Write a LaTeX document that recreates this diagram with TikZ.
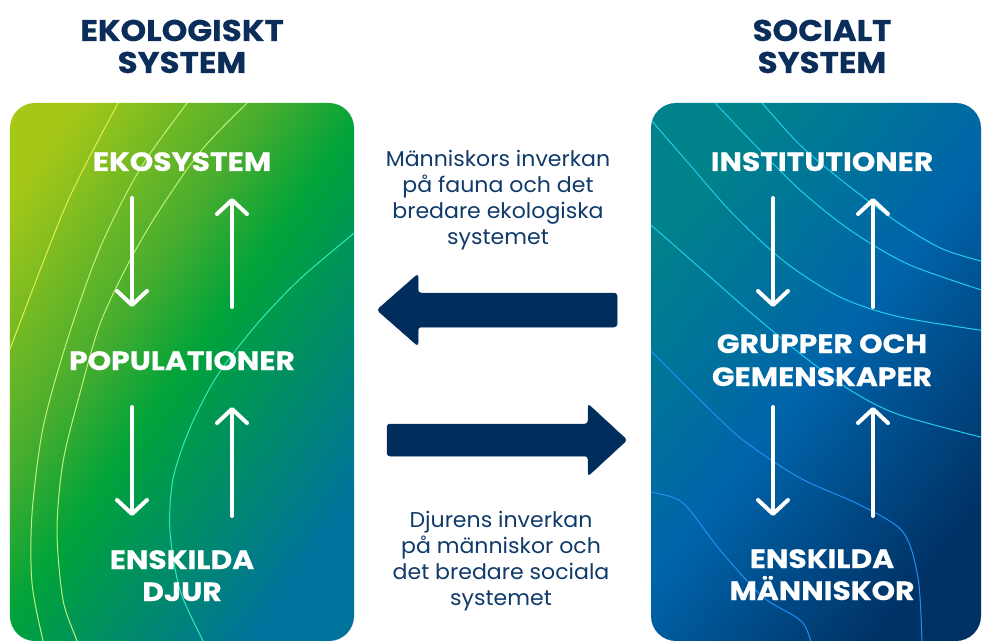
\documentclass[tikz,border=0pt]{standalone}
\usepackage{fontspec}
\setmainfont{Poppins}
\newfontfamily\headfont{Poppins}[FakeStretch=1.13, BoldFeatures={FakeBold=0.4}]
\newfontfamily\titlefont{Poppins}[FakeStretch=1.09, BoldFeatures={FakeBold=0.4}]
\newfontfamily\bodyfont{Poppins}[FakeStretch=1.03]
\usetikzlibrary{arrows.meta,calc}
\definecolor{titleblue}{HTML}{0A2D5A}
\definecolor{textblue}{HTML}{103A6A}
\definecolor{arrowblue}{HTML}{002D5B}
\definecolor{ecoA}{HTML}{A4C718}
\definecolor{ecoM}{HTML}{48AD2E}
\definecolor{ecoB}{HTML}{00A33A}
\definecolor{ecoC}{HTML}{00729C}
\definecolor{socA}{HTML}{00828A}
\definecolor{socB}{HTML}{0064AA}
\definecolor{socC}{HTML}{003266}
\definecolor{lineY}{HTML}{E2EE50}
\definecolor{lineG}{HTML}{BEF27A}
\definecolor{lineT}{HTML}{30ECB8}
\definecolor{lineC}{HTML}{22CCEE}
\definecolor{lineB}{HTML}{2290F0}
\pgfdeclareverticalshading{ecoshade}{100bp}{color(0bp)=(ecoC); color(25bp)=(ecoC); color(50bp)=(ecoB); color(60bp)=(ecoM); color(78bp)=(ecoA); color(100bp)=(ecoA)}
\begin{document}
\begin{tikzpicture}[x=1bp,y=-1bp,
  panel/.style={minimum width=#1, minimum height=538bp, inner sep=0pt, rounded corners=25bp},
  title/.style={text=titleblue, font=\titlefont\bfseries\fontsize{30}{32}\selectfont, anchor=base, inner sep=0pt},
  head/.style={text=white, font=\headfont\bfseries\fontsize{26.5}{30}\selectfont, anchor=base, inner sep=0pt},
  body/.style={text=textblue, font=\bodyfont\fontsize{21.5}{25.7}\selectfont, anchor=base, inner sep=0pt},
  warrow/.style={white, line width=4bp, line cap=round, -{Straight Barb[length=14bp,width=30bp,round]}},
  contour/.style={line width=1bp},
  bigarrow/.style={fill=arrowblue, rounded corners=3bp}
]
\useasboundingbox (0,0) rectangle (982,641);

% titles
\node[title] (t1a) at (182,41) {EKOLOGISKT};
\node[title] (t1b) at (182,73) {SYSTEM};
\node[title] (t2a) at (822,41) {SOCIALT};
\node[title] (t2b) at (822,73) {SYSTEM};

% panels
\node[panel=344bp, shade, shading=ecoshade, shading angle=55] (eco) at (182,372) {};
\node[panel=330bp, top color=socA, bottom color=socC, middle color=socB, shading angle=52] (soc) at (816,372) {};

% contour lines left
\begin{scope}
\clip[rounded corners=25bp] (eco.north west) rectangle (eco.south east);
\draw[contour, lineY] plot[smooth] coordinates {(130,80) (118,103) (67,203) (13,341) (0,375)};
\draw[contour, lineG] plot[smooth] coordinates {(205,78) (187,103) (140,169) (100,248) (67,341) (43,428) (32,514) (32,583) (43,641) (48,660)};
\draw[contour, lineG] plot[smooth] coordinates {(272,80) (247,103) (200,152) (157,214) (127,266) (100,324) (80,393) (63,462) (57,531) (63,600) (77,641) (82,660)};
\draw[contour, lineT] plot[smooth] coordinates {(380,212) (353,234) (300,279) (257,324) (217,376) (190,428) (173,479) (170,531) (180,590) (203,641) (212,660)};
\end{scope}

% contour lines right
\begin{scope}
\clip[rounded corners=25bp] (soc.north west) rectangle (soc.south east);
\draw[contour, lineC] plot[smooth] coordinates {(635,100) (652,121) (690,165) (733,214) (785,262) (840,297) (900,317) (1000,333)};
\draw[contour, lineC] plot[smooth] coordinates {(697,85) (715,103) (755,145) (800,190) (850,230) (910,265) (1000,296)};
\draw[contour, lineC] plot[smooth] coordinates {(745,85) (762,103) (800,145) (845,183) (900,224) (945,250) (1000,266)};
\draw[contour, lineC] plot[smooth] coordinates {(635,213) (652,226) (700,268) (750,312) (802,355) (850,390) (900,415) (1000,442)};
\draw[contour, lineB] plot[smooth] coordinates {(635,337) (652,352) (700,400) (743,440) (800,478) (860,505) (903,532) (918,578) (922,641) (922,660)};
\draw[contour, lineB] plot[smooth] coordinates {(635,486) (652,492) (683,503) (720,550) (763,597) (803,623) (815,660)};
\end{scope}

% left panel texts
\node[head] (ekosys) at (182,171) {EKOSYSTEM};
\node[head] (pop) at (182,370) {POPULATIONER};
\node[head] (ensA) at (182,569) {ENSKILDA};
\node[head] (ensB) at (182,601) {DJUR};

% right panel texts
\node[head] (inst) at (822,171) {INSTITUTIONER};
\node[head] (grpA) at (822,353) {GRUPPER OCH};
\node[head] (grpB) at (822,386) {GEMENSKAPER};
\node[head] (manA) at (822,568) {ENSKILDA};
\node[head] (manB) at (822,600) {MÄNNISKOR};

% white arrows
\coordinate (l1s) at (132,198); \coordinate (l1e) at (132,307);
\coordinate (l2s) at (232,307); \coordinate (l2e) at (232,198);
\coordinate (l3s) at (132,407); \coordinate (l3e) at (132,516);
\coordinate (l4s) at (232,516); \coordinate (l4e) at (232,407);
\coordinate (r1s) at (773,198); \coordinate (r1e) at (773,307);
\coordinate (r2s) at (873,307); \coordinate (r2e) at (873,198);
\coordinate (r3s) at (773,407); \coordinate (r3e) at (773,516);
\coordinate (r4s) at (873,516); \coordinate (r4e) at (873,407);
\foreach \a in {l1,l2,l3,l4,r1,r2,r3,r4}
  \draw[warrow] (\a s) -- (\a e);

% big arrows
\coordinate (a1tip) at (377,310);
\coordinate (a1tail) at (617,310);
\draw[bigarrow, draw=arrowblue, line width=0.5bp] (a1tip) -- ++(41,-36) -- ++(0,19) -- ($(a1tail)+(0,-17)$) -- ($(a1tail)+(0,17)$) -- ++(-199,0) -- ++(0,19) -- cycle;
\coordinate (a2tail) at (387,440);
\coordinate (a2tip) at (627,440);
\draw[bigarrow, draw=arrowblue, line width=0.5bp] (a2tip) -- ++(-39,36) -- ++(0,-20) -- ($(a2tail)+(0,16)$) -- ($(a2tail)+(0,-16)$) -- ++(201,0) -- ++(0,-20) -- cycle;

% middle texts
\node[body] (m1) at (498,167) {Människors inverkan};
\node[body] (m2) at (498,193) {på fauna och det};
\node[body] (m3) at (498,219) {bredare ekologiska};
\node[body] (m4) at (498,245) {systemet};
\node[body] (d1) at (501,527) {Djurens inverkan};
\node[body] (d2) at (501,553) {på människor och};
\node[body] (d3) at (501,579) {det bredare sociala};
\node[body] (d4) at (501,605) {systemet};
\end{tikzpicture}
\end{document}
